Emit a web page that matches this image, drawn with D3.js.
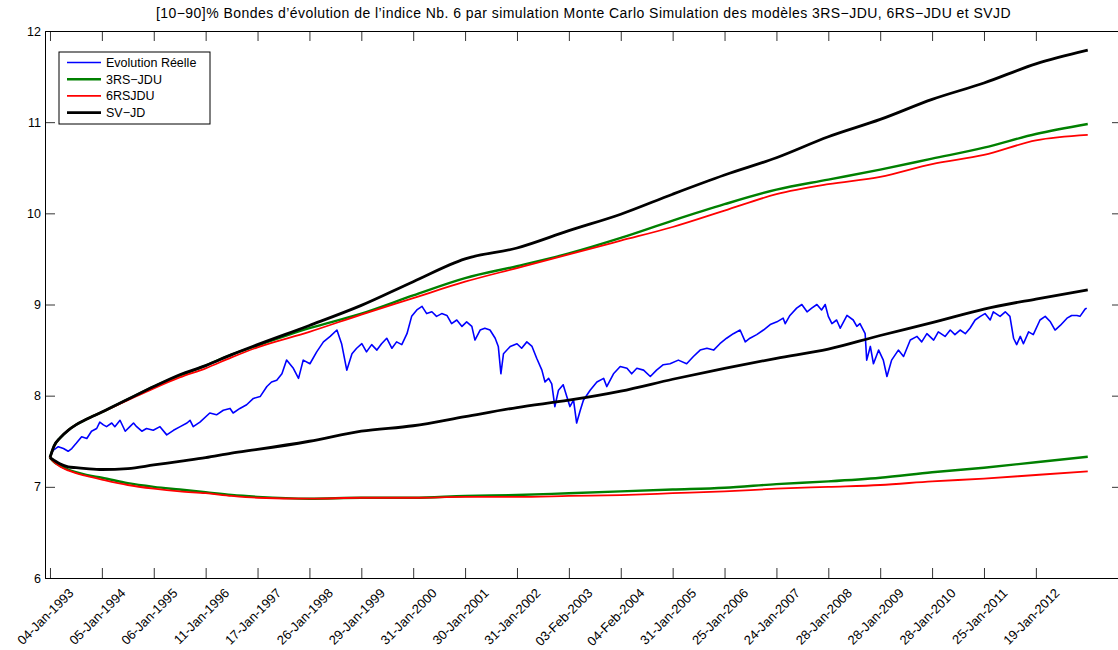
<!DOCTYPE html>
<html><head><meta charset="utf-8">
<script src="https://cdn.jsdelivr.net/npm/d3@7"></script>
<style>body{margin:0;background:#fff;} svg{display:block;font-family:"Liberation Sans",Arial,Helvetica,sans-serif;}</style>
</head><body><svg id="chart" width="1118" height="650"></svg>
<script>
const titleText = "[10\u221290]% Bondes d\u2019\u00e9volution de l\u2019indice Nb. 6 par simulation Monte Carlo Simulation des mod\u00e8les 3RS\u2212JDU, 6RS\u2212JDU et SVJD";
const xTickLabels = ["04-Jan-1993","05-Jan-1994","06-Jan-1995","11-Jan-1996","17-Jan-1997","26-Jan-1998","29-Jan-1999","31-Jan-2000","30-Jan-2001","31-Jan-2002","03-Feb-2003","04-Feb-2004","31-Jan-2005","25-Jan-2006","24-Jan-2007","28-Jan-2008","28-Jan-2009","28-Jan-2010","25-Jan-2011","19-Jan-2012"];
const xTickValues = [0,1,2,3,4,5,6,7,8,9,10,11,12,13,14,15,16,17,18,19];
const yTicks = [6,7,8,9,10,11,12];
const xLim = [-0.096, 20.66];
const yLim = [6, 12];
const seriesNames = ["Evolution R\u00e9elle","3RS\u2212JDU","6RSJDU","SV\u2212JD"];

// band sample times (in tick units, ~1 per year)
const bandT = [0,0.08,0.2,0.35,0.5,0.7,1,1.5,2,2.5,3,3.5,4,5,6,7,8,9,10,11,12,13,14,15,16,17,18,19,20];
const svUpper = [7.32,7.45,7.54,7.62,7.68,7.74,7.82,7.96,8.10,8.23,8.33,8.45,8.56,8.77,8.99,9.25,9.50,9.62,9.81,9.99,10.21,10.42,10.61,10.84,11.03,11.25,11.43,11.64,11.79];
const svLower = [7.32,7.29,7.25,7.22,7.21,7.20,7.19,7.20,7.24,7.28,7.32,7.37,7.41,7.50,7.61,7.67,7.77,7.87,7.95,8.05,8.18,8.30,8.41,8.51,8.66,8.80,8.95,9.06,9.16];
const rs3Upper = [7.32,7.45,7.54,7.62,7.68,7.74,7.82,7.96,8.10,8.22,8.33,8.45,8.55,8.74,8.90,9.10,9.29,9.42,9.56,9.73,9.92,10.10,10.26,10.37,10.48,10.60,10.72,10.87,10.98];
const rs3Lower = [7.32,7.27,7.23,7.19,7.16,7.13,7.10,7.04,7.00,6.97,6.94,6.91,6.89,6.87,6.88,6.88,6.90,6.91,6.93,6.95,6.97,6.99,7.03,7.06,7.10,7.16,7.21,7.27,7.33];
const rs6Upper = [7.32,7.45,7.54,7.62,7.68,7.74,7.82,7.95,8.08,8.20,8.30,8.42,8.53,8.70,8.89,9.07,9.25,9.40,9.55,9.70,9.85,10.03,10.21,10.32,10.40,10.54,10.64,10.80,10.86];
const rs6Lower = [7.32,7.27,7.22,7.18,7.15,7.12,7.08,7.02,6.98,6.95,6.93,6.90,6.88,6.87,6.88,6.88,6.89,6.89,6.90,6.91,6.93,6.95,6.98,7.00,7.02,7.06,7.09,7.13,7.17];

// real evolution
const realT = [0,0.06,0.16,0.26,0.35,0.42,0.51,0.61,0.71,0.80,0.90,0.96,1.03,1.09,1.19,1.25,1.35,1.45,1.54,1.61,1.67,1.77,1.86,1.99,2.12,2.25,2.38,2.51,2.64,2.70,2.76,2.89,3.08,3.21,3.34,3.47,3.53,3.66,3.79,3.92,4.05,4.18,4.27,4.37,4.47,4.56,4.69,4.79,4.88,5.01,5.14,5.27,5.40,5.53,5.62,5.72,5.82,5.91,6.01,6.10,6.20,6.30,6.39,6.49,6.59,6.68,6.78,6.88,6.97,7.07,7.17,7.26,7.36,7.45,7.55,7.65,7.74,7.84,7.94,8.03,8.13,8.19,8.29,8.38,8.48,8.58,8.64,8.69,8.74,8.87,9.00,9.09,9.19,9.29,9.38,9.48,9.54,9.61,9.67,9.73,9.80,9.89,9.96,10.02,10.09,10.15,10.22,10.28,10.41,10.54,10.67,10.73,10.86,10.99,11.12,11.21,11.31,11.44,11.57,11.69,11.82,11.95,12.11,12.27,12.40,12.53,12.66,12.79,12.91,13.04,13.17,13.30,13.40,13.49,13.62,13.75,13.88,14.01,14.13,14.17,14.26,14.39,14.49,14.59,14.68,14.78,14.87,14.94,15.00,15.07,15.16,15.23,15.36,15.48,15.55,15.61,15.71,15.74,15.81,15.87,15.97,16.06,16.13,16.22,16.35,16.45,16.58,16.71,16.80,16.90,17.03,17.12,17.25,17.35,17.44,17.54,17.64,17.73,17.83,17.93,18.02,18.12,18.18,18.31,18.41,18.50,18.57,18.63,18.70,18.76,18.86,18.95,19.08,19.18,19.28,19.37,19.47,19.60,19.69,19.79,19.85,19.95,19.98];
const realV = [7.33,7.40,7.44,7.42,7.39,7.42,7.48,7.55,7.53,7.61,7.64,7.71,7.68,7.66,7.70,7.66,7.73,7.61,7.66,7.70,7.66,7.61,7.64,7.62,7.66,7.57,7.62,7.66,7.70,7.73,7.66,7.71,7.81,7.79,7.84,7.86,7.81,7.86,7.90,7.97,7.99,8.10,8.15,8.17,8.24,8.39,8.30,8.19,8.39,8.35,8.48,8.59,8.65,8.72,8.57,8.28,8.46,8.52,8.57,8.48,8.56,8.50,8.57,8.63,8.52,8.59,8.56,8.68,8.87,8.94,8.98,8.90,8.92,8.87,8.90,8.88,8.79,8.83,8.76,8.81,8.76,8.61,8.72,8.74,8.72,8.63,8.54,8.24,8.46,8.54,8.57,8.52,8.59,8.54,8.41,8.28,8.15,8.19,8.13,7.88,8.06,8.12,7.99,7.88,7.95,7.70,7.84,7.95,8.06,8.15,8.19,8.10,8.24,8.32,8.30,8.24,8.30,8.28,8.21,8.28,8.34,8.35,8.39,8.35,8.43,8.50,8.52,8.50,8.57,8.63,8.68,8.72,8.59,8.63,8.67,8.72,8.78,8.81,8.85,8.79,8.88,8.96,9.00,8.92,8.96,9.00,8.94,9.00,8.87,8.79,8.83,8.74,8.88,8.83,8.76,8.79,8.68,8.39,8.54,8.35,8.50,8.39,8.21,8.39,8.50,8.43,8.61,8.65,8.59,8.68,8.61,8.70,8.65,8.72,8.67,8.72,8.68,8.74,8.83,8.87,8.90,8.83,8.92,8.87,8.92,8.87,8.63,8.56,8.65,8.57,8.70,8.67,8.83,8.87,8.81,8.72,8.77,8.85,8.88,8.88,8.87,8.95,8.96];

const W = 1118, H = 650;
const plot = {left: 45, right: 1122, top: 31, bottom: 578};
const svg = d3.select("#chart");
svg.append("rect").attr("width", W).attr("height", H).attr("fill", "#fff");

const x = d3.scaleLinear().domain(xLim).range([plot.left, plot.right]);
const y = d3.scaleLinear().domain(yLim).range([plot.bottom, plot.top]);

svg.append("defs").append("clipPath").attr("id", "clip")
  .append("rect").attr("x", plot.left).attr("y", plot.top)
  .attr("width", plot.right - plot.left).attr("height", plot.bottom - plot.top);

const lineRaw = d3.line().x(d => x(d[0])).y(d => y(d[1]));
const lineSmooth = d3.line().x(d => x(d[0])).y(d => y(d[1])).curve(d3.curveMonotoneX);
const zipT = (ts, vs) => ts.map((t, i) => [t, vs[i]]);

const series = [
  {data: zipT(realT, realV), color: "#0000ff", w: 1.6, gen: lineRaw},
  {data: zipT(bandT, rs3Upper), color: "#008000", w: 2.4, gen: lineSmooth},
  {data: zipT(bandT, rs3Lower), color: "#008000", w: 2.4, gen: lineSmooth},
  {data: zipT(bandT, rs6Upper), color: "#ff0000", w: 1.8, gen: lineSmooth},
  {data: zipT(bandT, rs6Lower), color: "#ff0000", w: 1.8, gen: lineSmooth},
  {data: zipT(bandT, svUpper), color: "#000000", w: 2.8, gen: lineSmooth},
  {data: zipT(bandT, svLower), color: "#000000", w: 2.8, gen: lineSmooth}
];
const gLines = svg.append("g").attr("clip-path", "url(#clip)");
series.forEach(s => {
  gLines.append("path").datum(s.data).attr("d", s.gen)
    .attr("fill", "none").attr("stroke", s.color).attr("stroke-width", s.w)
    .attr("stroke-linejoin", "round");
});

// axes
function styleAxis(g) {
  g.select(".domain").attr("stroke", "#000").attr("stroke-width", 1);
  g.selectAll(".tick line").attr("stroke", "#000").attr("stroke-width", 0.8);
}
const gx = svg.append("g").attr("transform", `translate(0,${plot.bottom})`)
  .call(d3.axisBottom(x).tickValues(xTickValues).tickSizeInner(-10).tickSizeOuter(0)
    .tickFormat((d, i) => xTickLabels[i]));
styleAxis(gx);
gx.selectAll(".tick text")
  .attr("x", 0).attr("y", 0).attr("dy", 0)
  .attr("text-anchor", "end")
  .attr("transform", "translate(24,16) rotate(-45)")
  .attr("font-size", 13).attr("font-family", "Liberation Sans, Arial, sans-serif").attr("fill", "#000");

const gxt = svg.append("g").attr("transform", `translate(0,${plot.top})`)
  .call(d3.axisTop(x).tickValues(xTickValues).tickSizeInner(-10).tickSizeOuter(0).tickFormat(""));
styleAxis(gxt);

const gy = svg.append("g").attr("transform", `translate(${plot.left},0)`)
  .call(d3.axisLeft(y).tickValues(yTicks).tickSizeInner(-10).tickSizeOuter(0).tickPadding(4).tickFormat(d3.format("d")));
styleAxis(gy);
gy.selectAll(".tick text").attr("font-size", 12.5).attr("font-family", "Liberation Sans, Arial, sans-serif").attr("fill", "#000");

const gyr = svg.append("g").attr("transform", `translate(${plot.right},0)`)
  .call(d3.axisRight(y).tickValues(yTicks).tickSizeInner(-10).tickSizeOuter(0).tickFormat(""));
styleAxis(gyr);

// title
svg.append("text").attr("x", (plot.left + plot.right) / 2).attr("y", 18)
  .attr("text-anchor", "middle").attr("font-size", 14).attr("letter-spacing", 0.45).attr("fill", "#000")
  .text(titleText);

// legend
const leg = svg.append("g").attr("transform", "translate(59,52)");
leg.append("rect").attr("width", 151).attr("height", 72)
  .attr("fill", "#fff").attr("stroke", "#000").attr("stroke-width", 1);
const legColors = ["#0000ff", "#008000", "#ff0000", "#000000"];
const legWidths = [1.6, 2.4, 1.8, 2.8];
seriesNames.forEach((name, i) => {
  const yy = 10.5 + i * 16.7;
  leg.append("line").attr("x1", 8).attr("x2", 42).attr("y1", yy).attr("y2", yy)
    .attr("stroke", legColors[i]).attr("stroke-width", legWidths[i]);
  leg.append("text").attr("x", 47).attr("y", yy).attr("dy", "0.35em")
    .attr("font-size", 12.5).attr("fill", "#000").text(name);
});
</script></body></html>
